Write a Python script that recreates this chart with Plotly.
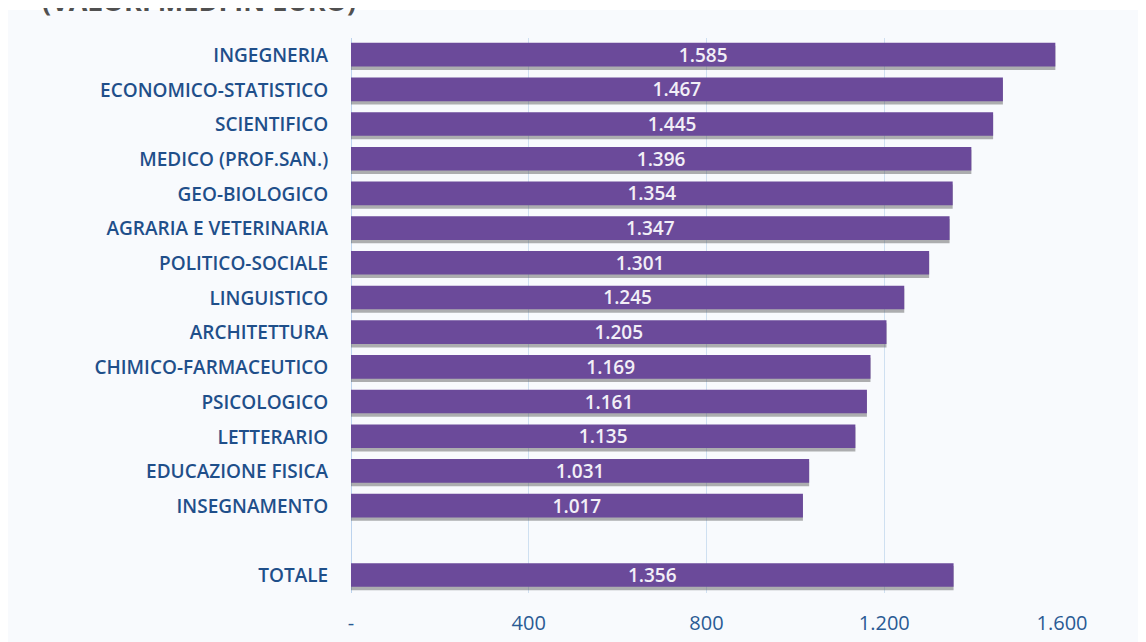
import plotly.graph_objects as go

categories = ["INGEGNERIA", "ECONOMICO-STATISTICO", "SCIENTIFICO", "MEDICO (PROF.SAN.)",
              "GEO-BIOLOGICO", "AGRARIA E VETERINARIA", "POLITICO-SOCIALE", "LINGUISTICO",
              "ARCHITETTURA", "CHIMICO-FARMACEUTICO", "PSICOLOGICO", "LETTERARIO",
              "EDUCAZIONE FISICA", "INSEGNAMENTO", "TOTALE"]
values = [1585, 1467, 1445, 1396, 1354, 1347, 1301, 1245, 1205, 1169, 1161, 1135, 1031, 1017, 1356]
tick_vals = [0, 400, 800, 1200, 1600]
tick_text = ["-", "400", "800", "1.200", "1.600"]
title_text = "(VALORI MEDI IN EURO)"

cat_order = categories[:-1] + [" "] + categories[-1:]

def fmt(v):
    return f"{v:,}".replace(",", ".")

L, R, T, B = 343, 92, 30, 57
PW, PH = 1146 - L - R, 642 - T - B

fig = go.Figure()
# soft shadow
fig.add_trace(go.Bar(
    x=values, y=categories, orientation="h", width=0.7, offset=-0.28,
    marker=dict(color="rgba(80,80,80,0.45)", line=dict(width=0)),
    hoverinfo="skip", showlegend=False,
))
fig.add_trace(go.Bar(
    x=values, y=categories, orientation="h", width=0.68, offset=-0.36,
    marker=dict(color="#6b4a9a", line=dict(width=0)),
    text=[fmt(v) for v in values], textposition="inside", insidetextanchor="middle",
    constraintext="none",
    textfont=dict(family="Open Sans", size=19, color="#f2eff7", weight=600),
    showlegend=False,
))

fig.update_layout(
    width=1146, height=642,
    margin=dict(l=L, r=R, t=T, b=B),
    paper_bgcolor="white", plot_bgcolor="rgba(0,0,0,0)",
    barmode="overlay",
    font=dict(family="Open Sans", color="#1f4f8a"),
    xaxis=dict(range=[0, 1600], tickvals=tick_vals, ticktext=tick_text, automargin=False,
               showgrid=True, gridcolor="#cfe0f1", gridwidth=1, zeroline=True,
               zerolinecolor="#bcd3ee", zerolinewidth=1,
               ticks="outside", ticklen=12, tickcolor="rgba(0,0,0,0)",
               tickfont=dict(size=20, color="#2a5a94"), showline=False),
    yaxis=dict(type="category", categoryorder="array", categoryarray=cat_order,
               autorange="reversed", automargin=False,
               tickfont=dict(size=19, color="#1f4f8a", weight=600),
               ticks="outside", ticklen=18, tickcolor="rgba(0,0,0,0)",
               showgrid=False, showline=False),
    shapes=[dict(type="rect", xref="paper", yref="paper", layer="below",
                 x0=-L / PW, x1=(1146 - L + 20) / PW, y0=-(B + 10) / PH, y1=1 + (T - 2) / PH,
                 fillcolor="#f8fafd", line=dict(width=0))],
    annotations=[dict(text="<b>" + title_text + "</b>", xref="paper", yref="paper",
                      x=(32 - L) / PW, y=1 + (T + 8) / PH, xanchor="left", yanchor="middle",
                      showarrow=False, font=dict(size=27, color="#505050", family="Open Sans"))],
)

fig.write_html("out.html")
